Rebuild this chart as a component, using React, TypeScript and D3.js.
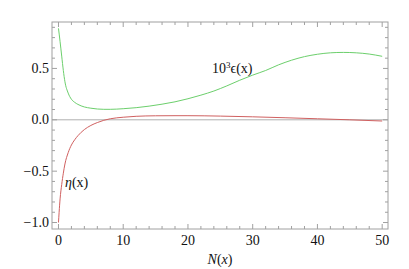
import React from "react";
import * as d3 from "d3";

const epsN = [0, 0.25, 0.5, 0.75, 1, 1.5, 2, 2.5, 3, 4, 5, 6, 7, 8, 10, 12, 14, 16, 18, 20, 22, 24, 26, 28, 30, 32, 34, 36, 38, 40, 42, 44, 46, 48, 50];
const epsV = [0.89, 0.76, 0.62, 0.48, 0.37, 0.26, 0.2, 0.17, 0.15, 0.125, 0.113, 0.105, 0.102, 0.102, 0.108, 0.118, 0.133, 0.152, 0.175, 0.205, 0.24, 0.28, 0.33, 0.385, 0.435, 0.48, 0.535, 0.58, 0.615, 0.638, 0.652, 0.656, 0.652, 0.64, 0.618];

const etaN = [0, 0.1, 0.25, 0.5, 0.75, 1, 1.5, 2, 2.5, 3, 4, 5, 6, 7, 8, 10, 12, 15, 18, 20, 25, 30, 35, 40, 45, 50];
const etaV = [-1.0, -0.9, -0.77, -0.63, -0.52, -0.43, -0.32, -0.245, -0.195, -0.155, -0.095, -0.055, -0.027, -0.005, 0.01, 0.025, 0.034, 0.039, 0.04, 0.04, 0.036, 0.029, 0.02, 0.01, 0.0, -0.012];

const xMajor = [0, 10, 20, 30, 40, 50];
const yMajor = [-1.0, -0.5, 0.0, 0.5];
const yLabels = ["\u22121.0", "\u22120.5", "0.0", "0.5"];

const L = 52, R = 388, T = 22, B = 229;

export default function App() {
  const x = d3.scaleLinear().domain([-1.0, 50.9]).range([L, R]);
  const y = d3.scaleLinear().domain([-1.063, 0.952]).range([B, T]);

  const xMinor = d3.range(0, 51, 2).filter((v) => v % 10 !== 0);
  const yMinor = d3.range(-10, 10).map((i) => i / 10).filter((v) => Math.abs(v * 2 - Math.round(v * 2)) > 1e-6);

  const mk = d3
    .line<[number, number]>()
    .x((d) => x(d[0]))
    .y((d) => y(d[1]))
    .curve(d3.curveMonotoneX);
  const epsPath = mk(epsN.map((n, i) => [n, epsV[i]] as [number, number]));
  const etaPath = mk(etaN.map((n, i) => [n, etaV[i]] as [number, number]));

  const frame = "#a0a0a0";
  const major = 5;
  const minor = 3;
  const tf: React.CSSProperties = { fontFamily: "'Times New Roman', Times, serif", fontSize: "14px" };

  return (
    <svg width={409} height={269} style={{ position: "absolute", left: 0, top: 0, background: "#fff" }}>
      <line x1={L} x2={R} y1={y(0)} y2={y(0)} stroke="#b0b0b0" strokeWidth={1} />
      <path d={epsPath || ""} fill="none" stroke="#6ccf6c" strokeWidth={1} />
      <path d={etaPath || ""} fill="none" stroke="#d06060" strokeWidth={1} />
      <rect x={L} y={T} width={R - L} height={B - T} fill="none" stroke={frame} strokeWidth={1} />
      {xMajor.map((v) => (
        <g key={"xm" + v}>
          <line x1={x(v)} x2={x(v)} y1={B} y2={B - major} stroke={frame} />
          <line x1={x(v)} x2={x(v)} y1={T} y2={T + major} stroke={frame} />
          <text x={x(v)} y={245} textAnchor="middle" style={tf} fill="#111">
            {v}
          </text>
        </g>
      ))}
      {xMinor.map((v) => (
        <g key={"xn" + v}>
          <line x1={x(v)} x2={x(v)} y1={B} y2={B - minor} stroke={frame} />
          <line x1={x(v)} x2={x(v)} y1={T} y2={T + minor} stroke={frame} />
        </g>
      ))}
      {yMajor.map((v, i) => (
        <g key={"ym" + v}>
          <line x1={L} x2={L + major} y1={y(v)} y2={y(v)} stroke={frame} />
          <line x1={R} x2={R - major} y1={y(v)} y2={y(v)} stroke={frame} />
          <text x={49} y={y(v) + 4.5} textAnchor="end" style={tf} fill="#111">
            {yLabels[i]}
          </text>
        </g>
      ))}
      {yMinor.map((v) => (
        <g key={"yn" + v}>
          <line x1={L} x2={L + minor} y1={y(v)} y2={y(v)} stroke={frame} />
          <line x1={R} x2={R - minor} y1={y(v)} y2={y(v)} stroke={frame} />
        </g>
      ))}
      <text x={220} y={264} textAnchor="middle" style={tf} fill="#111">
        <tspan fontStyle="italic">N</tspan>(<tspan fontStyle="italic">x</tspan>)
      </text>
      <text x={212} y={73} style={tf} fill="#111">
        10<tspan fontSize={9} dy={-5}>3</tspan>
        <tspan dy={5}>{"\u03F5(x)"}</tspan>
      </text>
      <text x={65} y={187} style={tf} fill="#111">
        <tspan fontStyle="italic">{"\u03B7"}</tspan>(x)
      </text>
    </svg>
  );
}
